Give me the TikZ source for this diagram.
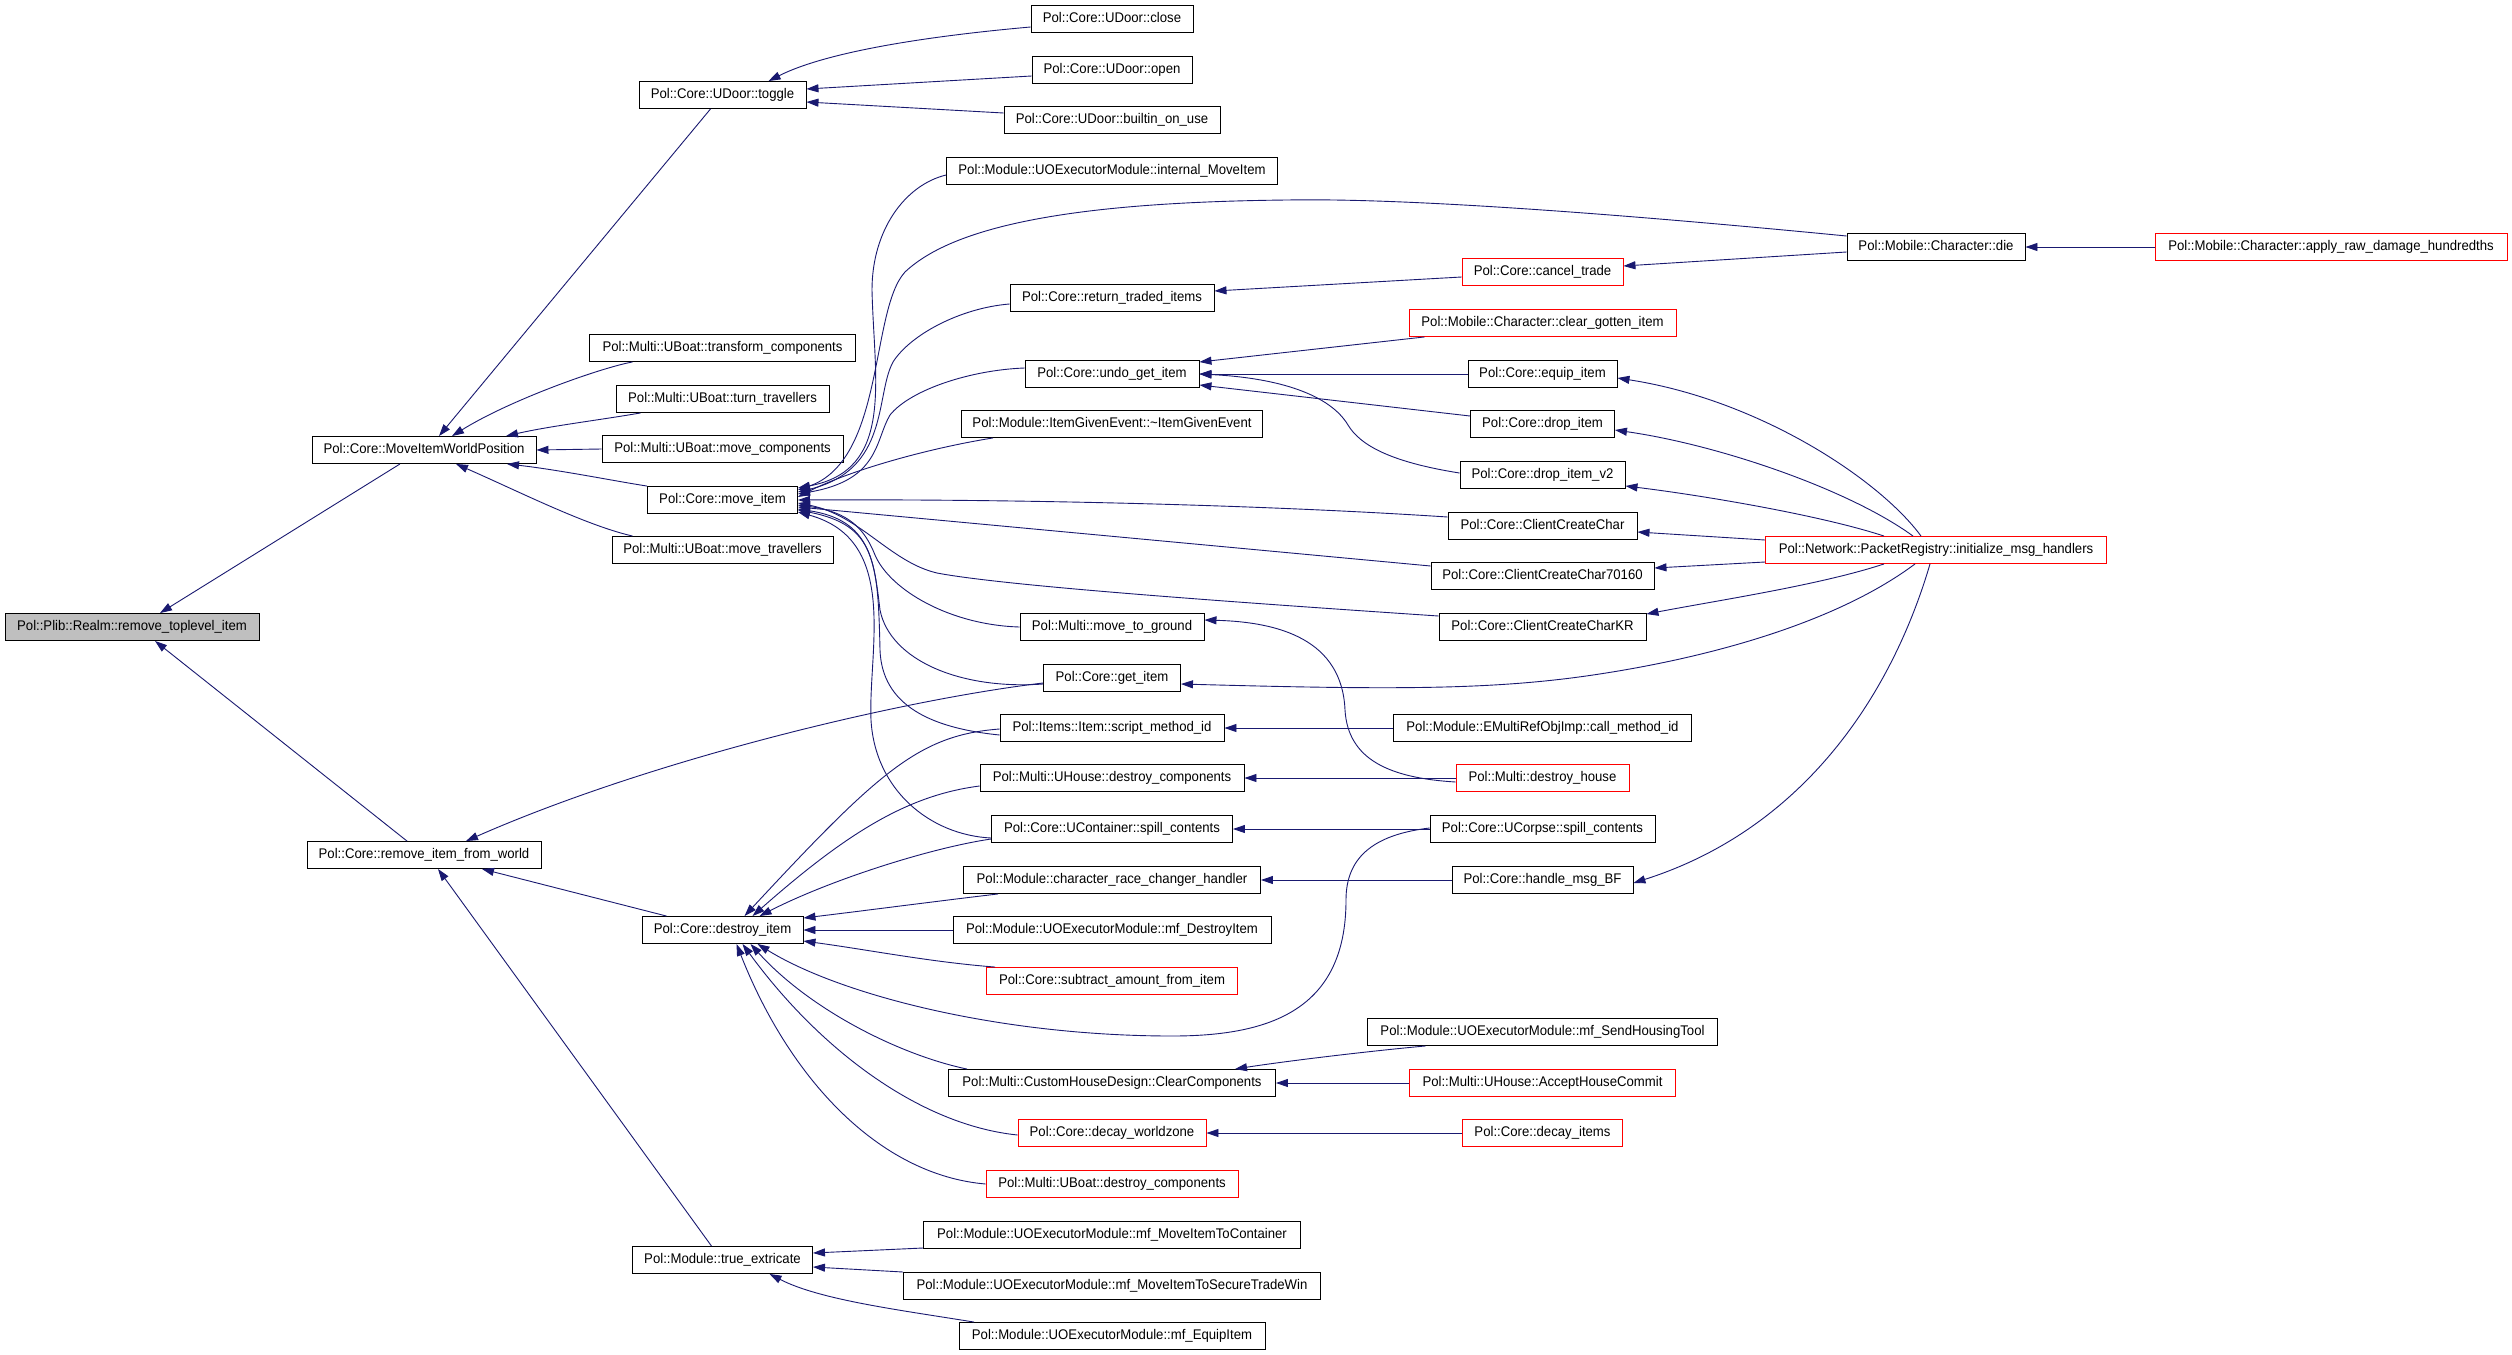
\documentclass[tikz,border=0pt]{standalone}
\usepackage{fontspec}
\setmainfont{Liberation Sans}[FakeStretch=0.94]
\usetikzlibrary{arrows.meta}
\definecolor{edgeblue}{RGB}{25,25,112}
\definecolor{nodegray}{RGB}{191,191,191}
\tikzset{
  box/.style={draw=black, line width=0.9pt, fill=white, font=\fontsize{14}{16}\selectfont,
    minimum height=27pt, inner xsep=3pt, inner ysep=0pt, text height=10.5pt, text depth=3pt, anchor=center},
  redbox/.style={box, draw=red},
  edge/.style={draw=edgeblue, line width=0.9pt, -{Triangle[length=12pt,width=8pt]}}
}
\begin{document}
\begin{tikzpicture}[x=1pt,y=-1pt]
\fill[white] (0,0) rectangle (2512,1355);
\useasboundingbox (0,0) rectangle (2512,1355);
% rank 0
\node[box, fill=nodegray, minimum width=254pt] (rtl) at (132,627) {Pol::Plib::Realm::remove\_toplevel\_item};
% rank 1
\node[box, minimum width=224pt] (miwp) at (424,450) {Pol::Core::MoveItemWorldPosition};
\node[box, minimum width=234pt] (rifw) at (424,855) {Pol::Core::remove\_item\_from\_world};
% rank 2
\node[box, minimum width=167pt] (toggle) at (722.5,95) {Pol::Core::UDoor::toggle};
\node[box, minimum width=266pt] (transform) at (722.5,348) {Pol::Multi::UBoat::transform\_components};
\node[box, minimum width=213pt] (turn) at (722.5,399) {Pol::Multi::UBoat::turn\_travellers};
\node[box, minimum width=241pt] (movecomp) at (722.5,449) {Pol::Multi::UBoat::move\_components};
\node[box, minimum width=150pt] (moveitem) at (722.5,500) {Pol::Core::move\_item};
\node[box, minimum width=221pt] (movetrav) at (722.5,550) {Pol::Multi::UBoat::move\_travellers};
\node[box, minimum width=161pt] (destroy) at (722.5,930) {Pol::Core::destroy\_item};
\node[box, minimum width=180pt] (extricate) at (722.5,1260) {Pol::Module::true\_extricate};
% rank 3
\node[box, minimum width=162pt] (close) at (1112,19) {Pol::Core::UDoor::close};
\node[box, minimum width=160pt] (open) at (1112,70) {Pol::Core::UDoor::open};
\node[box, minimum width=216pt] (builtin) at (1112,120) {Pol::Core::UDoor::builtin\_on\_use};
\node[box, minimum width=331pt] (internal) at (1112,171) {Pol::Module::UOExecutorModule::internal\_MoveItem};
\node[box, minimum width=204pt] (returntraded) at (1112,298) {Pol::Core::return\_traded\_items};
\node[box, minimum width=174pt] (undoget) at (1112,374) {Pol::Core::undo\_get\_item};
\node[box, minimum width=301pt] (itemgiven) at (1112,424) {Pol::Module::ItemGivenEvent::\textasciitilde ItemGivenEvent};
\node[box, minimum width=184pt] (movetoground) at (1112,627) {Pol::Multi::move\_to\_ground};
\node[box, minimum width=137pt] (getitem) at (1112,678) {Pol::Core::get\_item};
\node[box, minimum width=224pt] (scriptmid) at (1112,728) {Pol::Items::Item::script\_method\_id};
\node[box, minimum width=264pt] (uhousedc) at (1112,778) {Pol::Multi::UHouse::destroy\_components};
\node[box, minimum width=241pt] (ucontspill) at (1112,829) {Pol::Core::UContainer::spill\_contents};
\node[box, minimum width=297pt] (racechanger) at (1112,880) {Pol::Module::character\_race\_changer\_handler};
\node[box, minimum width=318pt] (mfdestroy) at (1112,930) {Pol::Module::UOExecutorModule::mf\_DestroyItem};
\node[redbox, minimum width=251pt] (subtract) at (1112,981) {Pol::Core::subtract\_amount\_from\_item};
\node[box, minimum width=327pt] (clearcomp) at (1112,1083) {Pol::Multi::CustomHouseDesign::ClearComponents};
\node[redbox, minimum width=188pt] (decaywz) at (1112,1133) {Pol::Core::decay\_worldzone};
\node[redbox, minimum width=252pt] (uboatdc) at (1112,1184) {Pol::Multi::UBoat::destroy\_components};
\node[box, minimum width=377pt] (mfmic) at (1112,1235) {Pol::Module::UOExecutorModule::mf\_MoveItemToContainer};
\node[box, minimum width=417pt] (mfstw) at (1112,1286) {Pol::Module::UOExecutorModule::mf\_MoveItemToSecureTradeWin};
\node[box, minimum width=306pt] (mfequip) at (1112,1336) {Pol::Module::UOExecutorModule::mf\_EquipItem};
% rank 4
\node[redbox, minimum width=161pt] (cancel) at (1542.5,272) {Pol::Core::cancel\_trade};
\node[redbox, minimum width=267pt] (cleargotten) at (1542.5,323) {Pol::Mobile::Character::clear\_gotten\_item};
\node[box, minimum width=149pt] (equip) at (1542.5,374) {Pol::Core::equip\_item};
\node[box, minimum width=144pt] (dropitem) at (1542.5,424) {Pol::Core::drop\_item};
\node[box, minimum width=165pt] (dropv2) at (1542.5,475) {Pol::Core::drop\_item\_v2};
\node[box, minimum width=189pt] (ccc) at (1542.5,526) {Pol::Core::ClientCreateChar};
\node[box, minimum width=223pt] (ccc7) at (1542.5,576) {Pol::Core::ClientCreateChar70160};
\node[box, minimum width=207pt] (ccckr) at (1542.5,627) {Pol::Core::ClientCreateCharKR};
\node[box, minimum width=298pt] (callmid) at (1542.5,728) {Pol::Module::EMultiRefObjImp::call\_method\_id};
\node[redbox, minimum width=173pt] (destroyhouse) at (1542.5,778) {Pol::Multi::destroy\_house};
\node[box, minimum width=225pt] (ucorpse) at (1542.5,829) {Pol::Core::UCorpse::spill\_contents};
\node[box, minimum width=181pt] (handlebf) at (1542.5,880) {Pol::Core::handle\_msg\_BF};
\node[box, minimum width=350pt] (sendhousing) at (1542.5,1032) {Pol::Module::UOExecutorModule::mf\_SendHousingTool};
\node[redbox, minimum width=266pt] (accept) at (1542.5,1083) {Pol::Multi::UHouse::AcceptHouseCommit};
\node[redbox, minimum width=160pt] (decayitems) at (1542.5,1133) {Pol::Core::decay\_items};
% rank 5, 6
\node[box, minimum width=178pt] (die) at (1936,247) {Pol::Mobile::Character::die};
\node[redbox, minimum width=341pt] (initmsg) at (1936,550) {Pol::Network::PacketRegistry::initialize\_msg\_handlers};
\node[redbox, minimum width=352pt] (applyraw) at (2331,247) {Pol::Mobile::Character::apply\_raw\_damage\_hundredths};

% ---- edges into remove_toplevel_item
\draw[edge] ([xshift=-24pt]miwp.south) -- ([xshift=28pt]rtl.north);
\draw[edge] ([xshift=-17pt]rifw.north) -- ([xshift=23pt]rtl.south);
% ---- edges into MoveItemWorldPosition
\draw[edge] ([xshift=-12pt]toggle.south) -- ([xshift=15pt]miwp.north);
\draw[edge] ([xshift=-90pt]transform.south) .. controls (600,368) and (510,400) .. ([xshift=28pt]miwp.north);
\draw[edge] ([xshift=-82pt]turn.south) .. controls (600,420) and (550,426) .. ([xshift=82pt]miwp.north);
\draw[edge] (movecomp.west) -- (miwp.east);
\draw[edge] (moveitem.north west) .. controls (620,482) and (560,470) .. ([xshift=83pt]miwp.south);
\draw[edge] ([xshift=-90pt]movetrav.north) .. controls (585,525) and (520,492) .. ([xshift=32pt]miwp.south);
% ---- edges into toggle
\draw[edge] ([yshift=-8pt]close.west) .. controls (940,35) and (830,50) .. ([xshift=46pt]toggle.north);
\draw[edge] ([yshift=-6pt]open.west) -- ([yshift=6pt]toggle.east);
\draw[edge] ([yshift=7pt]builtin.west) -- ([yshift=-7pt]toggle.east);
% ---- edges into move_item
\draw[edge] ([yshift=-4pt]internal.west) .. controls (905,185) and (872,230) .. (872,290) .. controls (874,380) and (895,470) .. ([yshift=12pt]moveitem.east);
\draw[edge] ([yshift=11pt]die.west) .. controls (1600,212) and (1400,198) .. (1287,200) .. controls (1100,202) and (960,220) .. (905,272) .. controls (870,310) and (885,460) .. ([yshift=10pt]moveitem.east);
\draw[edge] ([yshift=-6pt]returntraded.west) .. controls (960,308) and (910,335) .. (893,362) .. controls (875,395) and (890,470) .. ([yshift=8pt]moveitem.east);
\draw[edge] ([yshift=6pt]undoget.west) .. controls (970,370) and (910,390) .. (890,415) .. controls (875,440) and (880,480) .. ([yshift=6pt]moveitem.east);
\draw[edge] ([xshift=-119pt]itemgiven.south) .. controls (930,448) and (850,470) .. ([yshift=3pt]moveitem.east);
\draw[edge] ([yshift=9pt]ccc.west) .. controls (1250,504) and (1000,499) .. (moveitem.east);
\draw[edge] ([yshift=10pt]ccc7.west) -- ([yshift=-7pt]moveitem.east);
\draw[edge] ([yshift=11pt]ccckr.west) .. controls (1200,600) and (1000,585) .. (937,573) .. controls (890,562) and (860,515) .. ([yshift=-3pt]moveitem.east);
\draw[edge] (movetoground.west) .. controls (950,625) and (890,590) .. (875,555) .. controls (865,530) and (850,512) .. ([yshift=-5pt]moveitem.east);
\draw[edge] ([yshift=-6pt]getitem.west) .. controls (960,690) and (890,660) .. (880,610) .. controls (874,560) and (870,520) .. ([yshift=-9pt]moveitem.east);
\draw[edge] ([yshift=-7pt]scriptmid.west) .. controls (930,728) and (882,705) .. (880,650) .. controls (878,560) and (875,525) .. ([yshift=-10pt]moveitem.east);
\draw[edge] ([yshift=-9pt]ucontspill.west) .. controls (930,835) and (875,790) .. (871,720) .. controls (868,650) and (900,540) .. ([yshift=-12pt]moveitem.east);
% ---- return_traded, cancel, die
\draw[edge] ([yshift=-5pt]cancel.west) -- ([yshift=7pt]returntraded.east);
\draw[edge] ([yshift=-5pt]die.west) -- ([yshift=6pt]cancel.east);
\draw[edge] (applyraw.west) -- (die.east);
% ---- undo_get_item
\draw[edge] ([xshift=-118pt]cleargotten.south) -- ([yshift=12pt]undoget.east);
\draw[edge] (equip.west) -- (undoget.east);
\draw[edge] ([yshift=8pt]dropitem.west) -- ([yshift=-11pt]undoget.east);
\draw[edge] ([yshift=2pt]dropv2.west) .. controls (1390,462) and (1360,445) .. (1348,425) .. controls (1330,395) and (1280,378) .. (undoget.east);
% ---- initialize_msg_handlers
\draw[edge] ([xshift=-15pt]initmsg.north) .. controls (1880,480) and (1760,400) .. ([yshift=-4pt]equip.east);
\draw[edge] ([xshift=-23pt]initmsg.north) .. controls (1850,490) and (1720,445) .. ([yshift=-6pt]dropitem.east);
\draw[edge] ([xshift=-52pt]initmsg.north) .. controls (1820,515) and (1700,495) .. ([yshift=-11pt]dropv2.east);
\draw[edge] ([yshift=10pt]initmsg.west) -- ([yshift=-6pt]ccc.east);
\draw[edge] ([yshift=-12pt]initmsg.west) -- ([yshift=8pt]ccc7.east);
\draw[edge] ([xshift=-52pt]initmsg.south) .. controls (1820,585) and (1720,600) .. ([yshift=-1pt]ccckr.north east);
\draw[edge] ([xshift=-21pt]initmsg.south) .. controls (1840,620) and (1720,655) .. (1606,673) .. controls (1500,690) and (1400,690) .. ([yshift=-6pt]getitem.east);
\draw[edge] ([xshift=-6pt]initmsg.south) .. controls (1890,700) and (1800,830) .. ([yshift=-3pt]handlebf.east);
% ---- horizontals and others
\draw[edge] (callmid.west) -- (scriptmid.east);
\draw[edge] (destroyhouse.west) -- (uhousedc.east);
\draw[edge] ([yshift=-4pt]destroyhouse.west) .. controls (1390,778) and (1348,760) .. (1345,710) .. controls (1342,640) and (1280,622) .. ([yshift=7pt]movetoground.east);
\draw[edge] (ucorpse.west) -- (ucontspill.east);
\draw[edge] (handlebf.west) -- (racechanger.east);
\draw[edge] ([xshift=-117pt]sendhousing.south) .. controls (1360,1052) and (1280,1062) .. ([xshift=123pt]clearcomp.north);
\draw[edge] (accept.west) -- (clearcomp.east);
\draw[edge] (decayitems.west) -- (decaywz.east);
% ---- remove_item_from_world
\draw[edge] ([yshift=-5pt]getitem.west) .. controls (900,700) and (650,760) .. ([xshift=42pt]rifw.north);
\draw[edge] ([xshift=-56pt]destroy.north) -- ([xshift=58pt]rifw.south);
\draw[edge] ([xshift=-11pt]extricate.north) -- ([xshift=14pt]rifw.south);
% ---- destroy_item
\draw[edge] ([yshift=-1pt]scriptmid.west) .. controls (920,735) and (880,770) .. ([xshift=22pt]destroy.north);
\draw[edge] ([yshift=-8pt]uhousedc.west) .. controls (910,795) and (850,830) .. ([xshift=30pt]destroy.north);
\draw[edge] ([yshift=-10pt]ucontspill.west) .. controls (930,848) and (830,880) .. ([xshift=37pt]destroy.north);
\draw[edge] ([xshift=-114pt]racechanger.south) .. controls (930,902) and (870,910) .. ([yshift=12pt]destroy.east);
\draw[edge] (mfdestroy.west) -- (destroy.east);
\draw[edge] ([xshift=-117pt]subtract.north) .. controls (930,962) and (870,950) .. ([yshift=-11pt]destroy.east);
\draw[edge] ([yshift=1pt]ucorpse.west) .. controls (1370,835) and (1346,860) .. (1346,900) .. controls (1346,1010) and (1270,1036) .. (1172,1036) .. controls (1000,1036) and (840,995) .. ([xshift=35pt]destroy.south);
\draw[edge] ([xshift=-145pt]clearcomp.north) .. controls (900,1055) and (810,1010) .. ([xshift=28pt]destroy.south);
\draw[edge] ([yshift=-2pt]decaywz.west) .. controls (920,1125) and (820,1050) .. ([xshift=20pt]destroy.south);
\draw[edge] (uboatdc.west) .. controls (880,1175) and (790,1080) .. ([xshift=14pt]destroy.south);
% ---- true_extricate
\draw[edge] ([yshift=-13pt]mfmic.west) -- ([yshift=7pt]extricate.east);
\draw[edge] ([yshift=14pt]mfstw.west) -- ([yshift=-7pt]extricate.east);
\draw[edge] ([xshift=-138pt]mfequip.north) .. controls (900,1310) and (820,1300) .. ([xshift=47pt]extricate.south);
\end{tikzpicture}
\end{document}
